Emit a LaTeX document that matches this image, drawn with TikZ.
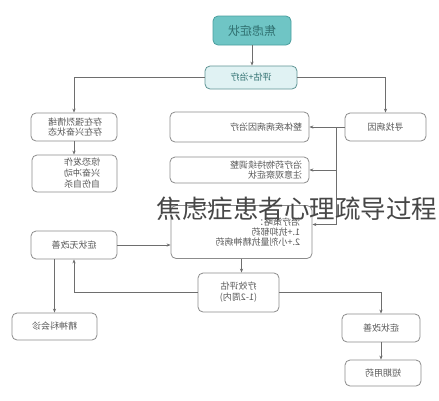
\documentclass[tikz,border=0pt]{standalone}
\usepackage{fontspec}
\usepackage{graphicx}
\newfontfamily\cjk{Noto Sans CJK SC}
\usetikzlibrary{arrows.meta}
\definecolor{linec}{HTML}{6E6E6E}
\definecolor{boxc}{HTML}{8C8C8C}
\definecolor{txtc}{HTML}{5A5A5A}
\definecolor{tealfill}{HTML}{6FC5C5}
\definecolor{tealdraw}{HTML}{4A9E9E}
\definecolor{tealtxt}{HTML}{2F6F6F}
\definecolor{evalfill}{HTML}{E0F2F3}
\definecolor{evaldraw}{HTML}{5E9494}
\newcommand{\mr}[1]{\reflectbox{#1}}
\begin{document}
\begin{tikzpicture}[x=1pt,y=-1pt,
  box/.style={draw=boxc, line width=0.8pt, rounded corners=5pt, fill=white,
    font=\cjk\fontsize{9}{10.5}\selectfont, text=txtc, inner sep=0pt, align=center},
  rbox/.style={box, align=right},
  conn/.style={draw=linec, line width=0.7pt},
  arr/.style={conn, -{Stealth[length=4pt,width=3.2pt]}}]
\useasboundingbox (0,0) rectangle (439,400);

\node[box, fill=tealfill, draw=tealdraw, text=tealtxt, font=\cjk\fontsize{12}{14}\selectfont,
  minimum width=78pt, minimum height=29pt] (top) at (252,30.5) {\mr{焦虑症状}};
\node[box, fill=evalfill, draw=evaldraw, text=tealtxt, minimum width=92pt, minimum height=23pt]
  (eval) at (251,77.5) {\mr{评估+治疗}};

\node[rbox, minimum width=86pt, minimum height=28pt, inner xsep=15pt, text width=56pt]
  (L1) at (74,127) {\mr{存在强烈情绪}\\\mr{存在兴奋状态}};
\node[rbox, minimum width=85pt, minimum height=37pt, inner xsep=17pt, text width=51pt,
  font=\cjk\fontsize{9}{11}\selectfont]
  (L2) at (74.5,173.5) {\mr{惊恐发作}\\\mr{兴奋冲动}\\\mr{自伤自杀}};

\node[rbox, minimum width=139pt, minimum height=30pt, inner xsep=7pt, text width=125pt]
  (M1) at (239.5,127) {\mr{整体疾病病因治疗}};
\node[rbox, minimum width=139pt, minimum height=26pt, inner xsep=7pt, text width=125pt,
  font=\cjk\fontsize{9}{9.5}\selectfont]
  (M2) at (239.5,170) {\mr{治疗药物持续调整}\\\mr{注意观察症状}};
\node[box, minimum width=81pt, minimum height=28pt] (R1) at (385.5,127) {\mr{寻找病因}};

\node[box, minimum width=86pt, minimum height=28pt] (L3) at (74,245) {\mr{症状无改善}};
\node[rbox, minimum width=141pt, minimum height=53pt, inner xsep=12pt, text width=117pt,
  font=\cjk\fontsize{9}{10}\selectfont]
  (C) at (241.5,232) {\mr{治疗策略：}\\\mr{1.+抗抑郁药}\\\mr{2.+小剂量抗精神病药}};
\node[box, minimum width=81pt, minimum height=39pt, font=\cjk\fontsize{9}{11}\selectfont]
  (E2) at (238.5,292.5) {\mr{疗效评估}\\\mr{(1-2周内)}};
\node[box, minimum width=85pt, minimum height=27pt] (L4) at (54.5,326.5) {\mr{精神科会诊}};
\node[box, minimum width=78pt, minimum height=28pt] (R2) at (381,328) {\mr{症状改善}};
\node[box, minimum width=76pt, minimum height=26pt] (R3) at (383,373) {\mr{短期用药}};

\coordinate (j) at (336,127);

\draw[arr] (top.south) -- (top.south |- eval.north);
\draw[arr] (eval.west) -| (L1.north);
\draw[arr] (eval.east) -| (R1.north);
\draw[arr] (L1.south) -- (L1.south |- L2.north);
\draw[arr] (R1.west) -- (M1.east);
\draw[conn] (j) -- (336,224);
\draw[arr] (j) |- (M2.east);
\draw[arr] (j) |- ([yshift=7.5pt]C.east);
\draw[arr] (L3.east) -- (L3.east -| C.west);
\draw[arr] (C.south) -- (C.south |- E2.north);
\draw[arr] (E2.west) -| (L3.south);
\draw[arr] (L4.north |- L3.south) -- (L4.north);
\draw[arr] (E2.east) -| (R2.north);
\draw[arr] (R2.south) -- (R2.south |- R3.north);

\node[font=\cjk\fontsize{25.5}{26}\selectfont, text=black!72, inner sep=0pt]
  (title) at (297,209) {焦虑症患者心理疏导过程};
\end{tikzpicture}
\end{document}
